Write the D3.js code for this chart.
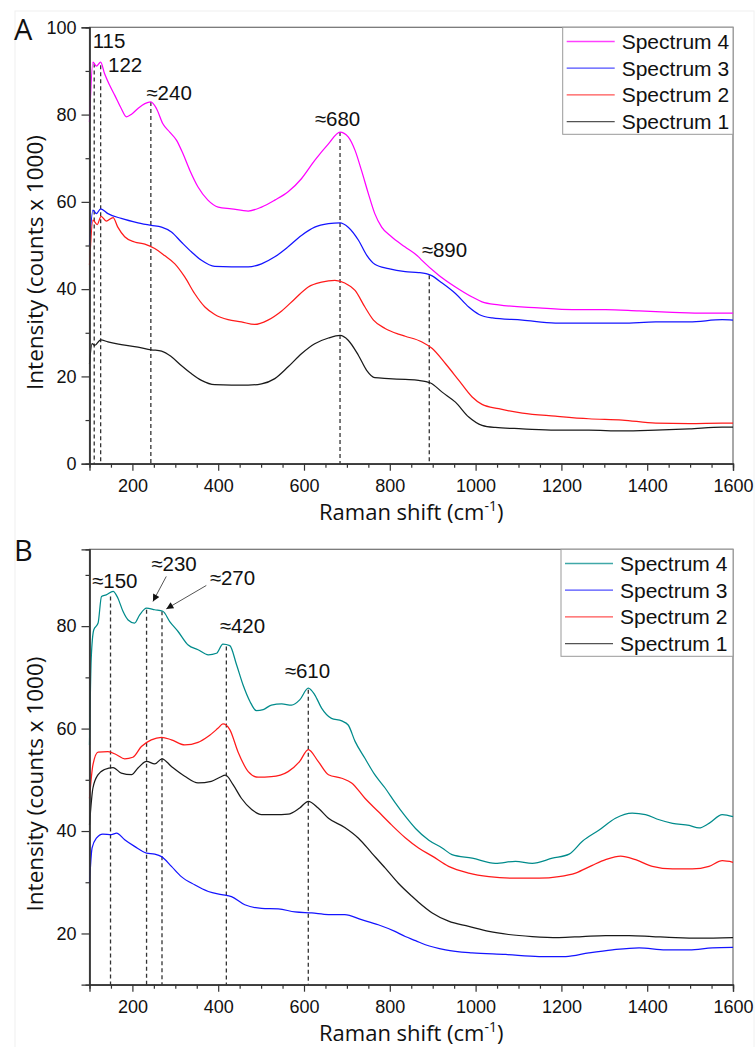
<!DOCTYPE html>
<html>
<head>
<meta charset="utf-8">
<script src="https://cdn.jsdelivr.net/npm/d3@7/dist/d3.min.js"></script>
<style>
  body { margin: 0; background: #fff; }
  svg text { font-family: "Liberation Sans", Arial, sans-serif; fill: #111; }
  svg .title { font-family: "Open Sans", "Noto Sans", sans-serif; }
</style>
</head>
<body>
<svg id="chart" width="756" height="1047"></svg>
<script>
// ---- panel A spectra, [raman shift, intensity]
var a_spec4 = [[100,78.3],[108,92],[116,91.1],[126,92],[135,89.4],[147,86.7],[159,84.4],[174,81.4],[186,79.5],[198,80.1],[213,81.4],[229,82.5],[243,82.9],[256,81.4],[271,77.9],[287,76],[303,74.1],[318,71],[334,67.2],[353,63.4],[376,60.4],[400,58.8],[431,58.4],[470,57.9],[501,58.8],[532,60.4],[563,62.3],[594,65.3],[625,69.5],[657,73.3],[684,76],[703,74.9],[719,71.8],[734,67.2],[750,61.9],[765,57.3],[781,54.2],[804,52],[835,49.7],[867,47.4],[875,46.6],[914,43.2],[953,40.5],[992,38.2],[1015,37.1],[1054,36.4],[1147,35.7],[1225,35.3],[1303,35.3],[1381,35],[1459,34.7],[1536,34.5],[1600,34.5]];
var a_spec3 = [[100,50],[108,58.1],[116,57.3],[126,58.4],[143,57.3],[174,56.2],[213,55.2],[244,54.6],[268,54.2],[291,53.1],[314,50.8],[338,48.5],[361,46.6],[392,45.2],[431,45.1],[470,45.1],[501,45.8],[532,47.4],[563,49.7],[594,52.3],[625,54.2],[657,55],[684,55.2],[703,54.2],[727,51.2],[746,47.8],[765,45.7],[797,44.7],[836,44],[867,43.8],[895,43.2],[922,41.4],[953,39],[984,35.9],[1008,34.2],[1039,33.4],[1109,32.9],[1186,32.2],[1264,32.2],[1342,32.2],[1420,32.5],[1498,32.5],[1575,33],[1600,32.9]];
var a_spec2 = [[100,45.5],[108,55.8],[118,54.8],[127,56.7],[139,55.6],[155,56.4],[166,54.2],[182,52],[205,50.8],[229,50.3],[252,49.3],[275,47.7],[299,45.8],[322,42.8],[345,39],[369,35.9],[392,34.2],[423,33],[454,32.5],[485,31.9],[516,32.9],[548,35],[579,37.8],[610,40.5],[641,41.6],[672,42],[695,41.4],[719,39.7],[742,35.9],[762,32.9],[789,31],[820,29.7],[836,29.2],[875,27.9],[899,26.4],[930,22.9],[961,19.1],[992,15.3],[1015,13.6],[1054,12.6],[1109,11.6],[1186,10.9],[1264,10.3],[1342,10],[1420,9.3],[1498,9.2],[1575,9.3],[1600,9.3]];
var a_spec1 = [[100,22.9],[106,27.5],[112,27.1],[126,28.4],[143,27.9],[174,27.3],[213,26.7],[244,26.1],[268,25.8],[291,24.5],[314,22.5],[338,20.6],[361,19.1],[392,18.1],[431,18],[470,18],[501,18.3],[532,19.5],[563,22.2],[594,25.2],[625,27.5],[657,28.8],[684,29.4],[703,28.3],[727,24.8],[746,21.4],[765,19.7],[797,19.5],[836,19.3],[867,19.1],[895,18.5],[922,16.4],[953,14.1],[984,10.7],[1015,8.8],[1046,8.3],[1109,8],[1186,7.7],[1264,7.7],[1342,7.5],[1420,7.7],[1498,8],[1575,8.4],[1600,8.4]];

// ---- panel B spectra
var b_spec4 = [[100,56.8],[104,73.7],[110,79.3],[120,80.6],[128,85.8],[139,86.1],[155,86.8],[166,85.5],[178,82.9],[190,81.2],[205,80.6],[217,82.2],[233,83.5],[252,83.2],[271,82.9],[287,80.9],[306,79],[330,76.3],[353,75.4],[377,74.4],[396,74.7],[411,76.5],[427,76.2],[443,72.4],[458,68.5],[474,65.3],[489,63.5],[505,63.7],[524,64.6],[548,64.8],[571,64.6],[590,65.6],[610,67.9],[625,66.6],[641,64],[664,62],[688,61.5],[703,60.7],[719,57.5],[742,54.2],[765,51],[789,48.4],[812,45.6],[836,42.9],[860,40.5],[891,38.2],[922,36.7],[945,35.4],[992,34.7],[1046,33.7],[1093,34.1],[1132,33.7],[1179,34.7],[1218,35.5],[1249,38],[1288,40.2],[1326,42.5],[1365,43.5],[1396,43.2],[1428,42.2],[1459,41.5],[1498,41.1],[1521,40.6],[1544,41.5],[1575,43.2],[1600,42.8]];
var b_spec3 = [[100,29.8],[106,36.7],[116,38.6],[131,39.4],[151,39.3],[163,39.6],[182,38.3],[205,37],[233,35.7],[252,35.5],[268,35],[291,33.1],[314,31.1],[345,29.5],[377,28.2],[408,27.6],[431,27.2],[462,25.6],[501,24.9],[540,24.8],[579,24.2],[618,24],[657,23.7],[695,23.7],[734,22.7],[773,21.7],[812,20.4],[836,19.4],[860,18.6],[883,17.8],[930,16.8],[992,16.2],[1070,15.9],[1148,15.5],[1210,15.5],[1264,16.2],[1319,16.8],[1381,17.2],[1443,16.8],[1498,16.8],[1552,17.2],[1600,17.3]];
var b_spec2 = [[100,46.4],[108,52.9],[120,55.4],[143,55.5],[163,54.9],[182,54.1],[201,54.4],[221,56.5],[244,57.8],[268,58.3],[291,57.8],[322,56.8],[353,57.3],[377,58.5],[400,60.1],[411,60.9],[427,59.8],[446,55.5],[470,51.6],[493,50.5],[524,50.6],[563,51.6],[590,53.6],[610,55.9],[633,53.6],[657,51],[688,50.3],[711,49.4],[742,46.4],[773,43.8],[804,41.2],[836,38.7],[867,36.7],[899,35.1],[937,33.1],[984,31.8],[1031,31.1],[1085,30.8],[1148,30.8],[1194,31.1],[1233,31.8],[1272,33.3],[1303,34.4],[1338,35.1],[1373,34.4],[1412,33.1],[1459,32.6],[1505,32.6],[1544,33.1],[1575,34.2],[1600,33.9]];
var b_spec1 = [[100,41.2],[108,48.4],[120,51],[135,52],[155,52.4],[174,51.3],[198,51],[213,52.3],[233,53.6],[252,53.1],[269,54.1],[291,52.6],[322,50.7],[353,49.4],[384,49.7],[404,50.5],[417,50.9],[435,49],[454,46.4],[478,44.2],[501,43.2],[532,43.2],[563,43.3],[590,44.5],[610,45.8],[633,44.5],[657,42.5],[695,40.7],[727,38.6],[758,35.7],[789,32.8],[820,29.8],[851,27.3],[867,26.1],[899,24],[937,22.4],[984,21.4],[1031,20.4],[1077,19.8],[1132,19.4],[1194,19.2],[1249,19.4],[1303,19.6],[1358,19.6],[1412,19.4],[1466,19.2],[1521,19.1],[1600,19.2]];

var seriesNames = ["Spectrum 4", "Spectrum 3", "Spectrum 2", "Spectrum 1"];
var colorsA = ["#ff00ff", "#1414ff", "#ff1a1a", "#1a1a1a"];
var colorsB = ["#008b8b", "#1414ff", "#ff1a1a", "#1a1a1a"];

// peak markers: position, intensity at top of dashed line, label
var peaksA = [111, 126, 243, 684, 892];
var peakTopsA = [91.7, 91.3, 82.9, 76, 43.2];
var peakLabelsA = ["115", "122", "\u2248240", "\u2248680", "\u2248890"];
var peaksB = [149, 233, 269, 419, 610];
var peakTopsB = [85.8, 83.2, 82.9, 76, 67.6];
var peakLabelsB = ["\u2248150", "\u2248230", "\u2248270", "\u2248420", "\u2248610"];

var xMajor = [200, 400, 600, 800, 1000, 1200, 1400, 1600];
var yMajorA = [0, 20, 40, 60, 80, 100];
var yMajorB = [20, 40, 60, 80];

// layout only (pixel offsets of labels from the top of each dashed line)
var labelOffA = [[-1.5, -15.5], [7.4, 7], [-4.5, -2], [-25.3, -5.7], [-7.6, -18]];
var labelOffB = [[-18.5, -8.2], [4.7, -38.3], [47.7, -25.8], [-6.7, -13.4], [-23.6, -11.5]];
// arrows in panel B: index of peak, [tail dx,dy], [tip dx,dy]
var arrowsB = [[1, [19.7, -33.3], [6.4, -8.3]], [2, [44.3, -25.8], [4.3, -2.4]]];

var svg = d3.select("#chart");
var left = 89.5, right = 733;

var x = d3.scaleLinear().domain([100, 1600]).range([left, right]);

// faint outer frame of the figure
svg.append("rect")
  .attr("x", 15).attr("y", 11).attr("width", 739).attr("height", 1040)
  .attr("fill", "none").attr("stroke", "#f0f0f0").attr("stroke-width", 1);

svg.append("defs").append("marker")
  .attr("id", "arrowhead")
  .attr("viewBox", "0 0 10 10")
  .attr("refX", 10).attr("refY", 5)
  .attr("markerWidth", 9).attr("markerHeight", 7)
  .attr("markerUnits", "userSpaceOnUse")
  .attr("orient", "auto")
  .append("path").attr("d", "M0,0 L10,5 L0,10 z").attr("fill", "#111");

function drawPanel(p) {
  var y = d3.scaleLinear().domain(p.yDomain).range([p.bottom, p.top]);
  var g = svg.append("g");

  // plot frame
  g.append("rect")
    .attr("x", left).attr("y", p.top)
    .attr("width", right - left).attr("height", p.bottom - p.top)
    .attr("fill", "none").attr("stroke", "#6e6e6e").attr("stroke-width", 1.2);

  // dashed peak lines
  p.peaks.forEach(function(pk, i) {
    g.append("line")
      .attr("x1", x(pk)).attr("x2", x(pk))
      .attr("y1", y(p.tops[i])).attr("y2", p.bottom)
      .attr("stroke", "#333").attr("stroke-width", 1.3)
      .attr("stroke-dasharray", "4,3");
  });

  // spectra
  var line = d3.line()
    .x(function(d) { return x(d[0]); })
    .y(function(d) { return y(d[1]); })
    .curve(d3.curveMonotoneX);
  p.series.forEach(function(s, i) {
    g.append("path")
      .datum(s)
      .attr("d", line)
      .attr("fill", "none")
      .attr("stroke", p.colors[i])
      .attr("stroke-width", 1.25);
  });

  // axes
  var fmt = d3.format("d");
  var xMinor = d3.range(150, 1600, 50).filter(function(v) { return v % 200 != 0; });
  g.append("g").attr("transform", "translate(0," + p.bottom + ")")
    .call(d3.axisBottom(x).tickValues(xMinor).tickSize(4).tickFormat(""))
    .call(styleAxis);
  g.append("g").attr("transform", "translate(0," + p.bottom + ")")
    .call(d3.axisBottom(x).tickValues(xMajor).tickSize(7).tickPadding(9).tickFormat(fmt))
    .call(styleAxis);

  var yMinor = p.yMajor.map(function(v) { return v + 10; })
    .concat([p.yMajor[0] - 10])
    .filter(function(v) { return v > p.yDomain[0] && v < p.yDomain[1]; });
  g.append("g").attr("transform", "translate(" + left + ",0)")
    .call(d3.axisLeft(y).tickValues(yMinor).tickSize(4).tickFormat(""))
    .call(styleAxis);
  g.append("g").attr("transform", "translate(" + left + ",0)")
    .call(d3.axisLeft(y).tickValues(p.yMajor).tickSize(8).tickPadding(5).tickFormat(fmt))
    .call(styleAxis);

  // peak labels
  p.peaks.forEach(function(pk, i) {
    g.append("text")
      .attr("x", x(pk) + p.labelOff[i][0])
      .attr("y", y(p.tops[i]) + p.labelOff[i][1])
      .style("font-size", "20.5px")
      .text(p.labels[i]);
  });

  (p.arrows || []).forEach(function(a) {
    var px = x(p.peaks[a[0]]), py = y(p.tops[a[0]]);
    g.append("line")
      .attr("x1", px + a[1][0]).attr("y1", py + a[1][1])
      .attr("x2", px + a[2][0]).attr("y2", py + a[2][1])
      .attr("stroke", "#555").attr("stroke-width", 1)
      .attr("marker-end", "url(#arrowhead)");
  });

  // legend
  var lg = g.append("g");
  lg.append("rect")
    .attr("x", p.legendX).attr("y", p.top)
    .attr("width", right - p.legendX).attr("height", 107)
    .attr("fill", "#fff").attr("stroke", "#999").attr("stroke-width", 1);
  seriesNames.forEach(function(name, i) {
    var cy = p.top + 14.2 + i * 26.7;
    lg.append("line")
      .attr("x1", p.legendX + 4).attr("x2", p.legendX + 52)
      .attr("y1", cy).attr("y2", cy)
      .attr("stroke", p.colors[i]).attr("stroke-width", 1.3)
      .attr("stroke-opacity", 0.75);
    lg.append("text")
      .attr("x", p.legendX + 59).attr("y", cy)
      .attr("dy", "0.36em")
      .style("font-size", "21px")
      .text(name);
  });

  // axis titles
  var xt = g.append("text").attr("class", "title")
    .attr("x", (left + right) / 2).attr("y", p.bottom + 56)
    .attr("text-anchor", "middle")
    .style("font-size", "22px");
  xt.append("tspan").text("Raman shift (cm");
  xt.append("tspan").attr("dy", -9).style("font-size", "14px").text("-1");
  xt.append("tspan").attr("dy", 9).text(")");

  g.append("text").attr("class", "title")
    .attr("transform", "translate(43," + ((p.top + p.bottom) / 2 + 17) + ") rotate(-90)")
    .attr("text-anchor", "middle")
    .style("font-size", "22.5px")
    .text("Intensity (counts x 1000)");

  g.append("text").attr("class", "title")
    .attr("x", 14).attr("y", p.letterY)
    .style("font-size", "29px")
    .text(p.letter);
}

function styleAxis(sel) {
  sel.select(".domain").attr("stroke", "#333").attr("stroke-width", 1.3);
  sel.selectAll(".tick line").attr("stroke", "#333").attr("stroke-width", 1.2);
  sel.selectAll(".tick text")
    .style("font-size", "18px")
    .style("font-family", "'Liberation Sans', Arial, sans-serif")
    .attr("fill", "#111");
}

drawPanel({
  top: 27.3, bottom: 463.7, yDomain: [0, 100], yMajor: yMajorA,
  series: [a_spec4, a_spec3, a_spec2, a_spec1], colors: colorsA,
  peaks: peaksA, tops: peakTopsA, labels: peakLabelsA, labelOff: labelOffA,
  legendX: 562.7, letter: "A", letterY: 39.5
});

drawPanel({
  top: 549.3, bottom: 984.7, yDomain: [10, 95], yMajor: yMajorB,
  series: [b_spec4, b_spec3, b_spec2, b_spec1], colors: colorsB,
  peaks: peaksB, tops: peakTopsB, labels: peakLabelsB, labelOff: labelOffB,
  arrows: arrowsB,
  legendX: 561, letter: "B", letterY: 560.5
});
</script>
</body>
</html>
